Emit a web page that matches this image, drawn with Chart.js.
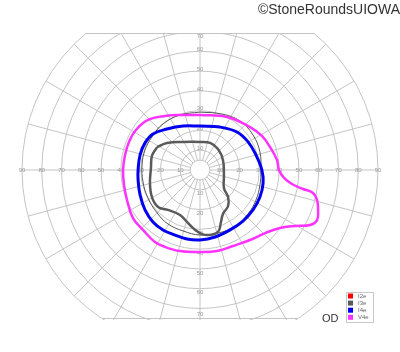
<!DOCTYPE html>
<html>
<head>
<meta charset="utf-8">
<script src="https://cdn.jsdelivr.net/npm/chart.js@4"></script>
<style>
  html,body{margin:0;padding:0;background:#fff;}
  #wrap{width:400px;height:352px;position:relative;}
</style>
</head>
<body>
<div id="wrap"><canvas id="c" width="400" height="352"></canvas></div>
<script>
// ---- tick labels / grid values (degrees) ----
const ringValues = [10, 20, 30, 40, 50, 60, 70, 80, 90];
const horizontalTicks = [10, 20, 30, 40, 50, 60, 70, 80, 90];
const upperTicks = [10, 20, 30, 40, 50, 60, 70];
const lowerTicks = [10, 20, 30, 40, 50, 60, 70];
const seriesLabels = ['I2e', 'I3e', 'I4e', 'V4e'];

// ---- isopters (x = horizontal degrees, y = vertical degrees) ----
const i2eX = [];
const i2eY = [];

const i3eX = [-21.7, -16.7, -8.6, 0, 5.1, 9.1, 11.6, 12.1, 12.1, 14.2, 14.2, 11.6, 10.6, 9.1, 3.5, -1.0, -5.1, -10.1, -16.2, -21.2, -24.3, -25.3, -24.8, -24.3];
const i3eY = [11.6, 13.7, 14.2, 14.2, 13.7, 10.6, 5.1, -2.5, -9.1, -13.7, -18.2, -22.2, -26.3, -31.3, -32.9, -31.3, -27.8, -22.8, -20.2, -18.7, -13.7, -6.6, 1.0, 7.1];

const i4eX = [0, 10.1, 18.7, 24.3, 28.3, 31.3, 31.9, 30.3, 26.8, 21.7, 15.2, 7.6, 0, -6.6, -12.6, -18.7, -23.8, -27.8, -30.3, -31.3, -31.3, -30.3, -27.8, -23.8, -16.7, -8.6];
const i4eY = [22.2, 21.7, 19.2, 14.2, 7.6, 0, -6.6, -13.7, -20.2, -25.8, -30.3, -33.9, -35.4, -34.9, -32.9, -30.3, -26.3, -20.2, -12.6, -5.1, 0, 7.6, 13.7, 18.2, 20.7, 22.2];

const v4eX = [0, 13.7, 25.3, 31.3, 35.4, 38.9, 39.9, 42.5, 46.5, 52.1, 57.1, 59.2, 59.7, 59.2, 55.6, 48.0, 40.4, 32.9, 25.3, 16.7, 8.6, 0, -10.1, -17.7, -22.8, -28.8, -33.9, -36.9, -38.4, -38.9, -37.9, -35.9, -32.4, -26.3, -17.7, -9.1];
const v4eY = [27.8, 26.8, 21.7, 17.2, 11.6, 5.1, 0, -4.0, -7.1, -9.6, -11.6, -15.2, -20.2, -25.3, -27.8, -28.3, -29.3, -31.9, -35.4, -38.4, -41.0, -41.5, -41.0, -38.9, -36.4, -30.3, -24.3, -15.2, -7.6, 0, 7.6, 14.2, 20.2, 25.3, 27.3, 27.8];

// thin reference contour (unlabelled)
const refX = [0, 11.1, 20.2, 26.8, 30.3, 30.8, 30.3, 28.3, 24.3, 18.2, 9.1, 0, -8.6, -16.2, -21.7, -26.3, -28.8, -29.3, -27.8, -24.3, -18.7, -10.1];
const refY = [29.3, 28.3, 24.8, 17.7, 9.1, 0, -7.6, -15.2, -22.2, -28.3, -31.9, -32.9, -30.8, -27.3, -21.7, -14.2, -6.1, 2.5, 10.1, 16.7, 23.3, 27.8];

function loop(xs, ys) {
  const pts = xs.map((x, i) => ({ x: x, y: ys[i] }));
  if (pts.length) pts.push({ x: xs[0], y: ys[0] });
  return pts;
}

const gridPlugin = {
  id: 'goldmannGrid',
  beforeDatasetsDraw(chart) {
    const ctx = chart.ctx, xs = chart.scales.x, ys = chart.scales.y, a = chart.chartArea;
    const cx = xs.getPixelForValue(0), cy = ys.getPixelForValue(0);
    const rpx = v => xs.getPixelForValue(v) - cx;
    const R = rpx(90);
    ctx.save();
    ctx.beginPath();
    ctx.rect(a.left - 1, a.top, a.right - a.left + 2, a.bottom - a.top + 1);
    ctx.clip();
    ctx.strokeStyle = '#c4c4c4';
    ctx.lineWidth = 1;
    // center circle
    ctx.beginPath(); ctx.arc(cx, cy, rpx(5), 0, Math.PI * 2); ctx.stroke();
    ringValues.forEach(v => { ctx.beginPath(); ctx.arc(cx, cy, rpx(v), 0, Math.PI * 2); ctx.stroke(); });
    for (let d = 0; d < 360; d += 15) {
      const t = d * Math.PI / 180;
      ctx.beginPath();
      ctx.moveTo(cx + rpx(5) * Math.cos(t), cy - rpx(5) * Math.sin(t));
      ctx.lineTo(cx + R * Math.cos(t), cy - R * Math.sin(t));
      ctx.stroke();
    }
    ctx.restore();
    // flat top and bottom edges
    ctx.save();
    ctx.strokeStyle = '#c4c4c4'; ctx.lineWidth = 1;
    [a.top + 0.5, a.bottom - 0.5].forEach(y => {
      const dy = y - cy; const hw = Math.sqrt(Math.max(0, R * R - dy * dy));
      ctx.beginPath(); ctx.moveTo(cx - hw, y); ctx.lineTo(cx + hw, y); ctx.stroke();
    });
    // tick labels
    ctx.fillStyle = '#9a9a9a';
    ctx.font = '6px "Liberation Sans", Arial, sans-serif';
    ctx.textAlign = 'center'; ctx.textBaseline = 'middle';
    horizontalTicks.forEach(v => {
      ctx.fillText(String(v), xs.getPixelForValue(-v), cy);
      ctx.fillText(String(v), xs.getPixelForValue(v), cy);
    });
    upperTicks.forEach(v => {
      const y = Math.max(ys.getPixelForValue(v) - 2, a.top + 3);
      ctx.fillText(String(v), cx, y);
    });
    lowerTicks.forEach(v => {
      const y = Math.min(ys.getPixelForValue(-v) + 4 + (v === 70 ? 2 : 0), a.bottom - 4);
      ctx.fillText(String(v), cx, y);
    });
    ctx.restore();
  },
  afterDraw(chart) {
    const ctx = chart.ctx;
    ctx.save();
    // copyright line
    ctx.fillStyle = '#333';
    ctx.font = '14px "Liberation Sans", Arial, sans-serif';
    ctx.textAlign = 'right'; ctx.textBaseline = 'alphabetic';
    ctx.fillText('©StoneRoundsUIOWA', 400, 14);
    // OD
    ctx.font = '11px "Liberation Sans", Arial, sans-serif';
    ctx.textAlign = 'left';
    ctx.fillText('OD', 322, 322);
    // legend box
    const items = chart.data.datasets.filter(d => d.label && d.label.length);
    const bx = 346, by = 292, bw = 27, bh = 30;
    ctx.fillStyle = '#fff';
    ctx.fillRect(bx, by, bw, bh);
    ctx.strokeStyle = '#c8c8c8'; ctx.lineWidth = 1;
    ctx.strokeRect(bx + 0.5, by + 0.5, bw, bh);
    ctx.font = '6px "Liberation Sans", Arial, sans-serif';
    ctx.textBaseline = 'middle';
    items.forEach((d, i) => {
      const y = by + 4 + i * 7.1;
      ctx.fillStyle = d.borderColor;
      ctx.fillRect(bx + 2, y - 2.5, 5, 5);
      ctx.fillStyle = '#666';
      ctx.fillText(d.label, bx + 12, y);
    });
    ctx.restore();
  }
};

new Chart(document.getElementById('c'), {
  type: 'scatter',
  data: {
    datasets: [
      { label: seriesLabels[0], data: loop(i2eX, i2eY), borderColor: '#ff0000', borderWidth: 2.5, showLine: true, pointRadius: 0, tension: 0.4, fill: false },
      { label: seriesLabels[1], data: loop(i3eX, i3eY), borderColor: '#5a5a5a', borderWidth: 2.5, showLine: true, pointRadius: 0, tension: 0.4, fill: false },
      { label: seriesLabels[2], data: loop(i4eX, i4eY), borderColor: '#0000ee', borderWidth: 3, showLine: true, pointRadius: 0, tension: 0.4, fill: false },
      { label: seriesLabels[3], data: loop(v4eX, v4eY), borderColor: '#ff33ff', borderWidth: 2.5, showLine: true, pointRadius: 0, tension: 0.4, fill: false },
      { label: '', data: loop(refX, refY), borderColor: '#555555', borderWidth: 1, showLine: true, pointRadius: 0, tension: 0.4, fill: false }
    ]
  },
  options: {
    responsive: false,
    animation: false,
    devicePixelRatio: 1,
    layout: { padding: { left: 22, right: 22, top: 33, bottom: 33 } },
    scales: {
      x: { type: 'linear', min: -90, max: 90, display: false },
      y: { type: 'linear', min: -75.34, max: 69.27, display: false }
    },
    plugins: { legend: { display: false }, title: { display: false }, tooltip: { enabled: false } }
  },
  plugins: [gridPlugin]
});
</script>
</body>
</html>
